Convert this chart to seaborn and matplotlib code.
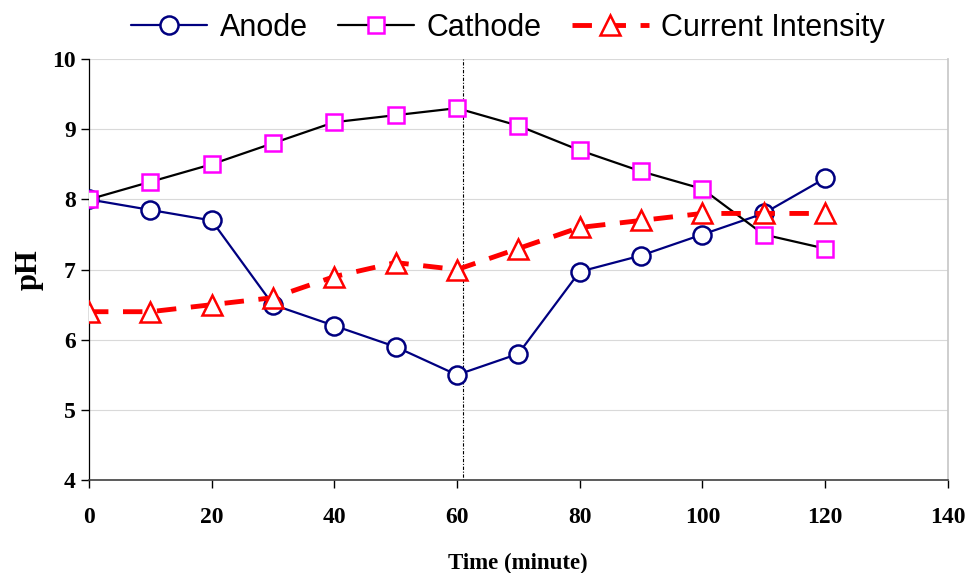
import matplotlib
matplotlib.use("Agg")
import matplotlib.pyplot as plt
import seaborn as sns
import pandas as pd

time_min = [0, 10, 20, 30, 40, 50, 60, 70, 80, 90, 100, 110, 120]
anode = [8.0, 7.85, 7.7, 6.5, 6.2, 5.9, 5.5, 5.8, 6.97, 7.2, 7.5, 7.8, 8.3]
cathode = [8.0, 8.25, 8.5, 8.8, 9.1, 9.2, 9.3, 9.05, 8.7, 8.4, 8.15, 7.5, 7.3]
current = [6.4, 6.4, 6.5, 6.6, 6.9, 7.1, 7.0, 7.3, 7.6, 7.7, 7.8, 7.8, 7.8]
series_names = ["Anode", "Cathode", "Current Intensity"]
x_ticks = [0, 20, 40, 60, 80, 100, 120, 140]
y_ticks = [4, 5, 6, 7, 8, 9, 10]

df = pd.DataFrame({
    "Time": time_min * 3,
    "pH": anode + cathode + current,
    "Series": [series_names[0]] * 13 + [series_names[1]] * 13 + [series_names[2]] * 13,
})

sns.set_theme(style="white")
plt.rcParams['font.family'] = ['Liberation Serif', 'DejaVu Serif']
plt.rcParams['text.color'] = 'black'
plt.rcParams['axes.labelcolor'] = 'black'
plt.rcParams['xtick.color'] = 'black'
plt.rcParams['ytick.color'] = 'black'

fig = plt.figure(figsize=(9.67, 5.73), dpi=100)
ax = fig.add_axes([0.092, 0.162, 0.888, 0.735])

styles = {
    "Anode": dict(color="#000080", marker="o", mec="#000080", ms=13, lw=1.6, ls="-"),
    "Cathode": dict(color="black", marker="s", mec="#FF00FF", ms=12, lw=1.6, ls="-"),
    "Current Intensity": dict(color="#FF0000", marker="^", mec="#FF0000", ms=14, lw=3.5, ls=(0, (4, 3))),
}

for name in series_names:
    st = styles[name]
    sub = df[df["Series"] == name]
    sns.lineplot(data=sub, x="Time", y="pH", ax=ax, color=st["color"], lw=st["lw"],
                 linestyle=st["ls"], marker=st["marker"], markersize=st["ms"],
                 markerfacecolor="white", markeredgecolor=st["mec"], markeredgewidth=1.8,
                 label=name, legend=False, zorder=3)

ax.axvline(61, color="black", lw=0.8, ls=(0, (1, 1.5, 3, 1.5)), zorder=2)

ax.set_xlim(0, 140)
ax.set_ylim(4, 10)
ax.set_xticks(x_ticks)
ax.set_yticks(y_ticks)
ax.yaxis.grid(True, color="#d9d9d9", lw=0.8)
ax.xaxis.grid(False)
ax.spines["top"].set_visible(False)
ax.spines["right"].set_color("#c8c8c8")
ax.spines["left"].set_color("black")
ax.spines["bottom"].set_color("#404040")
ax.spines["left"].set_linewidth(0.9)
ax.spines["bottom"].set_linewidth(1.2)
ax.tick_params(axis="both", which="major", direction="out", length=6, width=1,
               colors="black", labelsize=17, bottom=True, left=True)
ax.tick_params(axis="x", pad=13)
for lab in ax.get_xticklabels() + ax.get_yticklabels():
    lab.set_fontweight("bold")

ax.set_xlabel("Time (minute)", fontsize=16.5, fontweight="bold", labelpad=18, color="black")
ax.set_ylabel("pH", fontsize=22, fontweight="bold", labelpad=6, color="black")

h, l = ax.get_legend_handles_labels()
leg = fig.legend(h, l, loc="upper center", bbox_to_anchor=(0.525, 1.025), ncol=3, frameon=False,
                 prop={"family": "Liberation Sans", "size": 22}, handlelength=2.5,
                 columnspacing=1.0, handletextpad=0.4, labelcolor="black")

fig.savefig("out.png", dpi=100)
